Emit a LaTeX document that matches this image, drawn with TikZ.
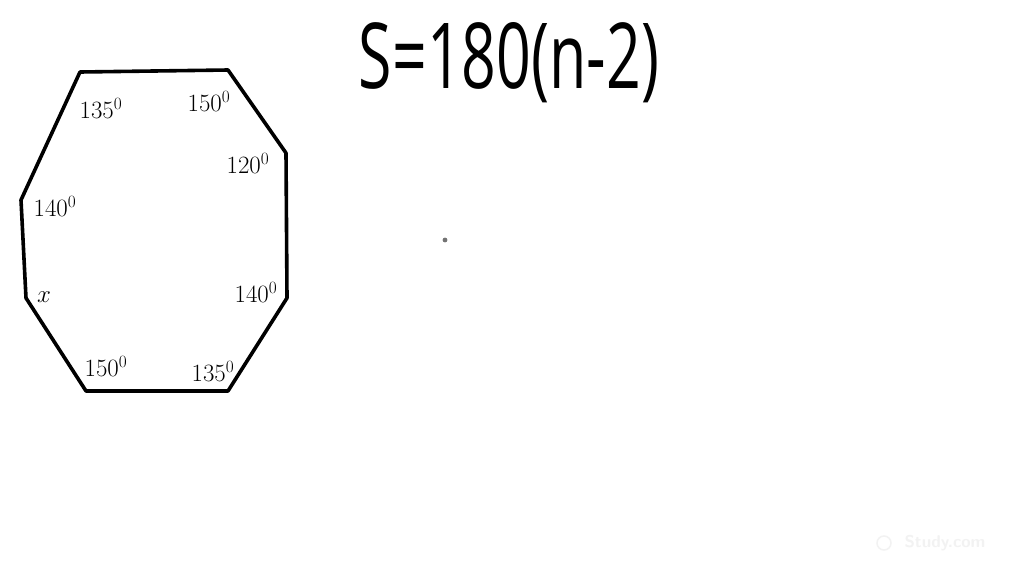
\documentclass[tikz,border=0pt]{standalone}
\usepackage{graphicx}
\usepackage{fontspec}
\newfontfamily\handfont{Open Sans}
\begin{document}
\begin{tikzpicture}[x=1pt,y=-1pt,
  edge/.style={line width=3.6pt,line join=round,line cap=round,black},
  ang/.style={font=\fontsize{27}{29}\selectfont,inner sep=0pt,anchor=center}]
\useasboundingbox[fill=white] (0,0) rectangle (1024,576);
% vertices
\coordinate (v1) at (80,72);
\coordinate (v2) at (228,70);
\coordinate (v3) at (286,153);
\coordinate (v4) at (287,298);
\coordinate (v5) at (228,391);
\coordinate (v6) at (86,391);
\coordinate (v7) at (26,298);
\coordinate (v8) at (21,200);
\draw[edge] (v1) -- (v2) -- (v3) -- (v4) -- (v5) -- (v6) -- (v7) -- (v8) -- cycle;
% angle labels
\node[ang] (a1) at (101,108) {$135^0$};
\node[ang] (a2) at (209,101) {$150^0$};
\node[ang] (a3) at (248,163) {$120^0$};
\node[ang] (a4) at (55,206) {$140^0$};
\node[ang] (a5) at (44,297) {$x$};
\node[ang] (a6) at (256,292) {$140^0$};
\node[ang] (a7) at (106,366) {$150^0$};
\node[ang] (a8) at (213,371) {$135^0$};
% formula
\node[inner sep=0pt] (f) at (509,63) {\resizebox{300pt}{66pt}{\handfont S=180(n-2)}};
% dot
\fill[black!55] (445,240) circle (2.4);
% watermark
\node[text=black!5,font=\fontsize{17}{18}\selectfont\sffamily\bfseries,inner sep=0pt] (w) at (945,543) {Study.com};
\draw[black!5,line width=1.5pt] (884,543) circle (7);
\end{tikzpicture}
\end{document}
